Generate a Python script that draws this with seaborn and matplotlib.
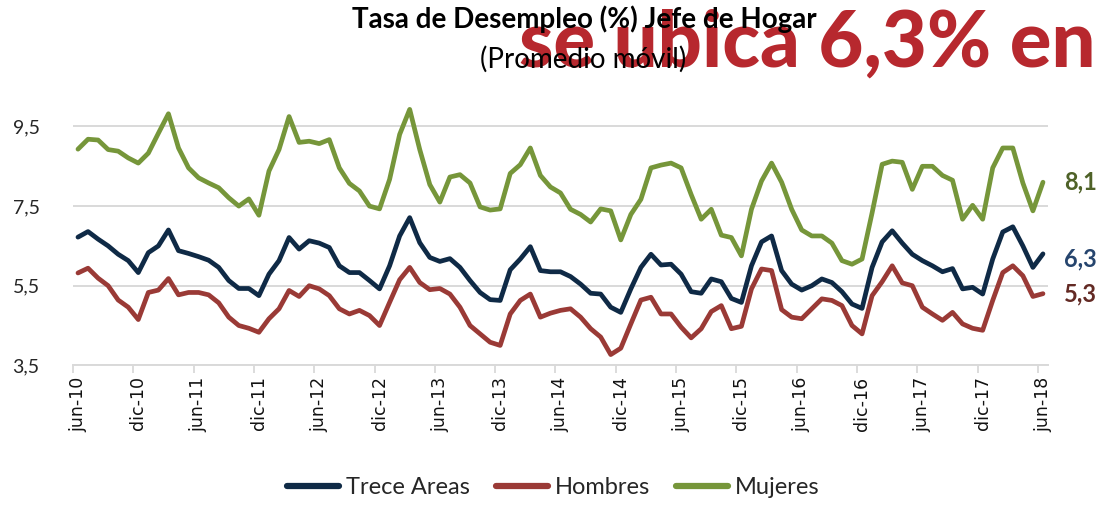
import pandas as pd
import matplotlib.pyplot as plt
from matplotlib.lines import Line2D
import seaborn as sns

# Monthly moving-average unemployment rate of household heads, jun-10 .. jun-18
meses = ["ene", "feb", "mar", "abr", "may", "jun", "jul", "ago", "sep", "oct", "nov", "dic"]
periodos = pd.period_range("2010-06", "2018-06", freq="M")

trece_areas = [
    6.72, 6.86, 6.67, 6.50, 6.29, 6.13, 5.83, 6.33, 6.50, 6.90, 6.38, 6.31, 6.23, 6.14, 5.96, 5.63, 5.43,
    5.43, 5.25, 5.79, 6.13, 6.71, 6.42, 6.63, 6.57, 6.46, 6.00, 5.83, 5.83, 5.63, 5.42, 6.00, 6.75,
    7.21, 6.58, 6.21, 6.11, 6.18, 5.96, 5.63, 5.33, 5.15, 5.13, 5.90, 6.17, 6.48, 5.88, 5.85, 5.85,
    5.73, 5.54, 5.31, 5.29, 4.96, 4.83, 5.42, 5.96, 6.29, 6.02, 6.04, 5.79, 5.35, 5.31, 5.67, 5.60,
    5.18, 5.08, 6.00, 6.60, 6.75, 5.88, 5.54, 5.39, 5.50, 5.67, 5.58, 5.35, 5.04, 4.93, 5.96, 6.60,
    6.88, 6.57, 6.29, 6.13, 6.00, 5.85, 5.93, 5.42, 5.46, 5.29, 6.17, 6.85, 6.98, 6.50, 5.96, 6.30,
]
hombres = [
    5.82, 5.94, 5.69, 5.50, 5.14, 4.96, 4.65, 5.33, 5.39, 5.68, 5.27, 5.33, 5.33, 5.27, 5.07, 4.71, 4.50,
    4.43, 4.33, 4.67, 4.92, 5.38, 5.23, 5.50, 5.42, 5.25, 4.92, 4.79, 4.88, 4.75, 4.50, 5.08, 5.65,
    5.96, 5.58, 5.40, 5.43, 5.29, 4.96, 4.50, 4.29, 4.08, 4.00, 4.79, 5.13, 5.29, 4.71, 4.81, 4.88,
    4.92, 4.71, 4.42, 4.21, 3.77, 3.93, 4.54, 5.14, 5.21, 4.79, 4.79, 4.46, 4.19, 4.42, 4.85, 5.00,
    4.42, 4.48, 5.42, 5.92, 5.88, 4.90, 4.71, 4.67, 4.92, 5.17, 5.13, 5.00, 4.50, 4.29, 5.25, 5.60,
    6.00, 5.57, 5.50, 4.96, 4.79, 4.63, 4.83, 4.54, 4.43, 4.38, 5.13, 5.83, 6.00, 5.75, 5.23, 5.30,
]
mujeres = [
    8.93, 9.18, 9.16, 8.92, 8.88, 8.71, 8.58, 8.83, 9.33, 9.82, 8.96, 8.46, 8.21, 8.08, 7.96, 7.71, 7.50,
    7.68, 7.27, 8.38, 8.92, 9.75, 9.10, 9.13, 9.07, 9.17, 8.46, 8.07, 7.88, 7.50, 7.43, 8.17, 9.30,
    9.93, 8.92, 8.04, 7.60, 8.23, 8.29, 8.08, 7.48, 7.40, 7.43, 8.32, 8.54, 8.96, 8.27, 7.98, 7.83,
    7.42, 7.29, 7.10, 7.43, 7.38, 6.65, 7.29, 7.67, 8.46, 8.53, 8.58, 8.46, 7.79, 7.17, 7.42, 6.77,
    6.71, 6.25, 7.42, 8.13, 8.58, 8.10, 7.42, 6.90, 6.75, 6.75, 6.57, 6.13, 6.04, 6.17, 7.33, 8.55,
    8.63, 8.60, 7.92, 8.50, 8.50, 8.27, 8.15, 7.17, 7.52, 7.17, 8.46, 8.96, 8.96, 8.08, 7.38, 8.10,
]

series = ["Trece Areas", "Hombres", "Mujeres"]
colores = {"Trece Areas": "#0F2A46", "Hombres": "#9A3A36", "Mujeres": "#76963A"}
colores_etiqueta = {"Trece Areas": "#26456E", "Hombres": "#632A24", "Mujeres": "#4F6228"}

etiquetas_x = ["jun-10", "dic-10", "jun-11", "dic-11", "jun-12", "dic-12", "jun-13", "dic-13",
               "jun-14", "dic-14", "jun-15", "dic-15", "jun-16", "dic-16", "jun-17", "dic-17", "jun-18"]
ticks_y = [3.5, 5.5, 7.5, 9.5]

mes_txt = [f"{meses[p.month - 1]}-{p.year % 100:02d}" for p in periodos]
df = pd.DataFrame({
    "pos": range(len(periodos)),
    "mes": mes_txt,
    "Trece Areas": trece_areas,
    "Hombres": hombres,
    "Mujeres": mujeres,
}).melt(id_vars=["pos", "mes"], var_name="serie", value_name="tasa")

sns.set_theme(style="white")
plt.rcParams["font.family"] = ["Lato", "DejaVu Sans"]

fig = plt.figure(figsize=(11.02, 5.05), dpi=100)
ax = fig.add_axes([0.0662, 0.2766, 0.8848, 0.536])

sns.lineplot(data=df, x="pos", y="tasa", hue="serie", hue_order=series,
             palette=colores, linewidth=3.4, legend=False, ax=ax, sort=False)
for ln in ax.get_lines():
    ln.set_solid_joinstyle("round")
    ln.set_solid_capstyle("round")

n = len(periodos)
ax.set_xlim(-0.5, n - 0.5)
ax.set_ylim(3.5, 10.3)
ax.set_yticks(ticks_y)
ax.set_yticklabels([f"{v:.1f}".replace(".", ",") for v in ticks_y],
                   fontsize=14, color="#262626")
ax.yaxis.grid(True, color="#D9D9D9", linewidth=1.4)
ax.xaxis.grid(False)
ax.set_axisbelow(True)

pos_labels = [mes_txt.index(e) for e in etiquetas_x]
ax.set_xticks(pos_labels)
ax.set_xticklabels(etiquetas_x, rotation=90, fontsize=12.5, color="#111111",
                   fontfamily="DejaVu Sans")
ax.set_xticks([p - 0.5 for p in pos_labels], minor=True)
ax.tick_params(axis="x", which="major", length=0, pad=8)
ax.tick_params(axis="x", which="minor", length=6, width=1.3, color="#D9D9D9", bottom=True)
ax.tick_params(axis="y", length=0, pad=24)
ax.set_xlabel("")
ax.set_ylabel("")

for s in ["left", "right", "top"]:
    ax.spines[s].set_visible(False)
ax.spines["bottom"].set_color("#D9D9D9")
ax.spines["bottom"].set_linewidth(1.4)

# Latest value of each series at the right end
ultimos = {"Mujeres": mujeres[-1], "Trece Areas": trece_areas[-1], "Hombres": hombres[-1]}
desfase = {"Mujeres": 0, "Trece Areas": -4, "Hombres": 0}
for s, v in ultimos.items():
    ax.annotate(f"{v:.1f}".replace(".", ","), xy=(n - 1, v), xycoords="data",
                xytext=(15, desfase[s]), textcoords="offset points",
                ha="left", va="center", fontsize=17, fontweight="bold",
                color=colores_etiqueta[s], annotation_clip=False)

# Headline text behind the chart title
fig.text(0.733, 0.869, "se ubica 6,3% en", ha="center", va="baseline",
         fontsize=56, fontweight="black", color="#B7282E", zorder=1)

fig.text(0.53, 0.962, "Tasa de Desempleo (%) Jefe de Hogar", ha="center", va="center",
         fontsize=20, fontweight="bold", color="black", zorder=3)
fig.text(0.529, 0.883, "(Promedio móvil)", ha="center", va="center",
         fontsize=20, color="black", zorder=3)

handles = [Line2D([0], [0], color=colores[s], linewidth=4.5, solid_capstyle="round") for s in series]
fig.legend(handles, series, loc="center", bbox_to_anchor=(0.502, 0.035), ncol=3,
           frameon=False, fontsize=17, handlelength=2.2, handletextpad=0.3,
           columnspacing=1.1)

fig.savefig("out.png", dpi=100)
